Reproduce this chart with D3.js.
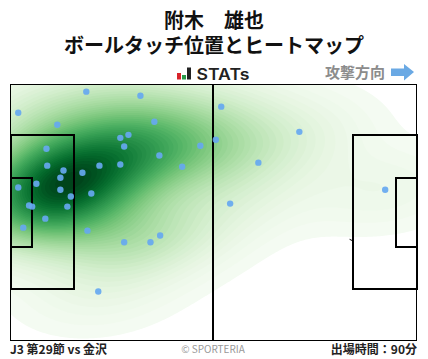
<!DOCTYPE html>
<html>
<head>
<meta charset="utf-8">
<script src="https://d3js.org/d3.v7.min.js"></script>
<style>
html, body { margin: 0; padding: 0; background: #fff; }
svg { display: block; font-family: "Noto Sans CJK JP", "Noto Sans", sans-serif; }
</style>
</head>
<body>
<div id="chart"></div>
<script>
// ball touches in pitch metres
var touchX = [2.0, 19.6, 33.6, 12.1, 37.2, 30.5, 28.4, 29.4, 9.3, 49.1, 53.1, 38.5, 44.4, 9.5, 13.7, 18.6, 23.0, 28.4, 12.9, 6.7, 2.0, 12.9, 20.9, 15.6, 14.7, 4.8, 5.6, 3.3, 9.0, 19.9, 29.4, 36.2, 38.7, 22.7, 54.5, 74.7, 64.1, 56.8, 96.9];
var touchY = [7.5, 1.9, 3.0, 10.7, 9.9, 13.4, 14.2, 16.5, 17.1, 16.3, 14.7, 18.9, 21.9, 21.6, 22.9, 23.5, 21.6, 21.3, 24.8, 26.4, 27.4, 28.0, 29.0, 29.8, 32.5, 32.2, 32.5, 38.1, 35.7, 38.9, 42.0, 42.0, 40.2, 55.1, 5.9, 12.6, 20.8, 31.7, 28.0];

var titleLines = ["附木　雄也", "ボールタッチ位置とヒートマップ"];
var footLeft = "J3 第29節 vs 金沢";
var footRight = "出場時間：90分";
var footMiddle = "© SPORTERIA";
var attackLabel = "攻撃方向";

var svgWidth = 428, svgHeight = 359;
var pitch = {left: 10.5, right: 416.5, top: 84.5, bottom: 340};

var svg = d3.select("#chart").append("svg")
    .attr("width", svgWidth)
    .attr("height", svgHeight);

var x = d3.scaleLinear().domain([0, 105]).range([pitch.left, pitch.right]);
var y = d3.scaleLinear().domain([0, 68]).range([pitch.top, pitch.bottom]);

svg.append("clipPath").attr("id", "pitchClip").append("rect")
    .attr("x", pitch.left).attr("y", pitch.top)
    .attr("width", pitch.right - pitch.left)
    .attr("height", pitch.bottom - pitch.top);

// gaussian kde with the full covariance of the touches
var px = touchX.map(function(d) { return x(d); });
var py = touchY.map(function(d) { return y(d); });
var n = px.length;
var mx = d3.mean(px), my = d3.mean(py);
var sxx = d3.sum(px, function(d) { return (d - mx) * (d - mx); }) / (n - 1);
var syy = d3.sum(py, function(d) { return (d - my) * (d - my); }) / (n - 1);
var sxy = d3.sum(px, function(d, i) { return (d - mx) * (py[i] - my); }) / (n - 1);
var bwScale = Math.pow(n, -1 / 3) * 1.4;
var cxx = sxx * bwScale, cyy = syy * bwScale, cxy = sxy * bwScale;
var det = cxx * cyy - cxy * cxy;

var cell = 2;
var gridW = Math.ceil(svgWidth / cell) + 1, gridH = Math.ceil(svgHeight / cell) + 1;
var grid = new Float64Array(gridW * gridH);
for (var j = 0; j < gridH; j++) {
    for (var i = 0; i < gridW; i++) {
        var v = 0;
        for (var k = 0; k < n; k++) {
            var dx = i * cell - px[k], dy = j * cell - py[k];
            v += Math.exp(-0.5 * (cyy * dx * dx - 2 * cxy * dx * dy + cxx * dy * dy) / det);
        }
        grid[j * gridW + i] = v;
    }
}

var gridMax = d3.max(grid);
var levels = 50;
var lowest = 0.02;
var thresholds = d3.range(levels).map(function(i) {
    return gridMax * (lowest + (1 - lowest) * i / levels);
});
var color = d3.scaleSequential(d3.interpolateGreens).domain([-1, levels - 1]);

var contours = d3.contours().size([gridW, gridH]).thresholds(thresholds)(grid);
var contourPath = d3.geoPath(d3.geoTransform({
    point: function(a, b) { this.stream.point((a - 0.5) * cell, (b - 0.5) * cell); }
}));

svg.append("g").attr("clip-path", "url(#pitchClip)")
    .selectAll("path")
    .data(contours)
    .enter().append("path")
    .attr("d", contourPath)
    .attr("fill", function(d, i) { return color(i); });

// pitch markings
var boxes = [
    [0, 16.5, 13.5, 54.5],
    [0, 5.5, 24.8, 43.2],
    [88.5, 105, 13.5, 54.5],
    [99.6, 105, 24.8, 43.2]
];
var lines = svg.append("g").attr("fill", "none").attr("stroke", "#000").attr("shape-rendering", "crispEdges");
lines.selectAll("rect.box")
    .data(boxes)
    .enter().append("rect")
    .attr("class", "box")
    .attr("x", function(d) { return Math.round(x(d[0])); })
    .attr("y", function(d) { return Math.round(y(d[2])); })
    .attr("width", function(d) { return Math.round(x(d[1])) - Math.round(x(d[0])); })
    .attr("height", function(d) { return Math.round(y(d[3])) - Math.round(y(d[2])); })
    .attr("stroke-width", 2);
lines.append("line")
    .attr("x1", Math.floor(x(52.5))).attr("x2", Math.floor(x(52.5)))
    .attr("y1", pitch.top).attr("y2", pitch.bottom)
    .attr("stroke-width", 2);
lines.append("rect")
    .attr("x", pitch.left).attr("y", pitch.top)
    .attr("width", pitch.right - pitch.left)
    .attr("height", pitch.bottom - pitch.top)
    .attr("stroke-width", 1);
// stub of the penalty arc that shows in the source
svg.append("line")
    .attr("x1", x(87.7)).attr("y1", y(41.2))
    .attr("x2", x(88.5)).attr("y2", y(41.6))
    .attr("stroke", "#000");

svg.append("g").selectAll("circle")
    .data(px)
    .enter().append("circle")
    .attr("cx", function(d) { return d; })
    .attr("cy", function(d, i) { return py[i]; })
    .attr("r", 3.2)
    .attr("fill", "#66a8f0")
    .attr("fill-opacity", 0.92);

// title
svg.append("text")
    .attr("text-anchor", "middle")
    .attr("font-size", 20)
    .attr("font-weight", 700)
    .attr("fill", "#111")
    .selectAll("tspan")
    .data(titleLines)
    .enter().append("tspan")
    .attr("x", 214)
    .attr("y", function(d, i) { return 28 + i * 25; })
    .text(function(d) { return d; });

// stats logo
var logo = svg.append("g");
logo.append("rect").attr("x", 177).attr("y", 73).attr("width", 4).attr("height", 6.5).attr("fill", "#d8232a");
logo.append("rect").attr("x", 182).attr("y", 75).attr("width", 4).attr("height", 4.5).attr("fill", "#2a9a48");
logo.append("rect").attr("x", 187).attr("y", 67.5).attr("width", 4).attr("height", 12).attr("fill", "#222");
logo.append("text")
    .attr("x", 196.5).attr("y", 79.5)
    .attr("font-family", "Inter, sans-serif")
    .attr("font-size", 15.5)
    .attr("font-weight", 600)
    .attr("fill", "#222")
    .attr("textLength", 53)
    .attr("lengthAdjust", "spacingAndGlyphs")
    .text("STATs");

// attack direction
svg.append("text")
    .attr("x", 385).attr("y", 78)
    .attr("text-anchor", "end")
    .attr("font-size", 15)
    .attr("font-weight", 700)
    .attr("fill", "#8c8c8c")
    .text(attackLabel);
svg.append("path")
    .attr("d", d3.line()([[391, 68.5], [404, 68.5], [404, 64], [414, 72], [404, 80.5], [404, 76], [391, 76]]) + "Z")
    .attr("fill", "#6aa9e4");

// footer
svg.append("text")
    .attr("x", 10).attr("y", 354)
    .attr("font-size", 12)
    .attr("font-weight", 700)
    .attr("fill", "#222")
    .text(footLeft);
svg.append("text")
    .attr("x", 213).attr("y", 353)
    .attr("text-anchor", "middle")
    .attr("font-size", 10)
    .attr("fill", "#999")
    .text(footMiddle);
svg.append("text")
    .attr("x", 417).attr("y", 354)
    .attr("text-anchor", "end")
    .attr("font-size", 12)
    .attr("font-weight", 700)
    .attr("fill", "#222")
    .text(footRight);
</script>
</body>
</html>
